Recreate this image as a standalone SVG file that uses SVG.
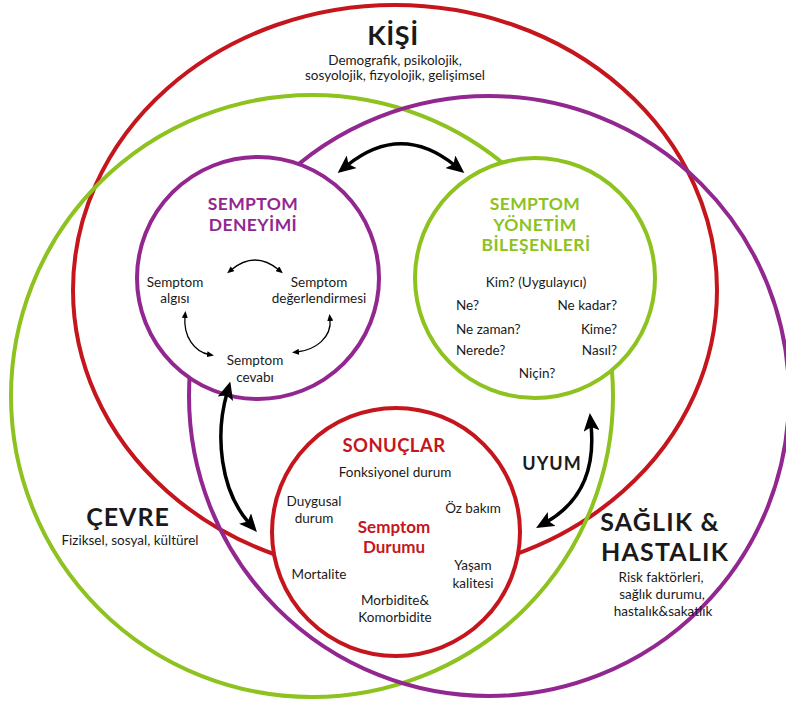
<svg xmlns="http://www.w3.org/2000/svg" width="786" height="703" viewBox="0 0 786 703">
<defs>
<style>
.big{fill:none;stroke-width:4}
.node{fill:#fff;stroke-width:4}
.r{stroke:#C4161C}.p{stroke:#92278F}.g{stroke:#8DC21F}
text{font-family:Lato,"Open Sans","Liberation Sans",sans-serif;text-anchor:middle;fill:#1a1a1a}
.t{font-size:13.5px}
.h{font-weight:bold}
.tr{fill:#C4161C}.tp{fill:#92278F}.tg{fill:#8DC21F}
.L{text-anchor:start}.R{text-anchor:end}
.ba{fill:none;stroke:#000;stroke-width:3.5}
.sa{fill:none;stroke:#000;stroke-width:1.3}
</style>
<marker id="bigHead" markerUnits="userSpaceOnUse" viewBox="0 0 18 16" markerWidth="18" markerHeight="16" refX="6" refY="8" orient="auto-start-reverse">
<path d="M0,0 L18,8 L0,16 L4,8 z" fill="#000"/>
</marker>
<marker id="smHead" markerUnits="userSpaceOnUse" viewBox="0 0 7 6" markerWidth="7" markerHeight="6" refX="2" refY="3" orient="auto-start-reverse">
<path d="M0,0 L7,3 L0,6 z" fill="#000"/>
</marker>
</defs>
<rect width="786" height="703" fill="#fff"/>

<g id="kisi">
<ellipse class="big r" cx="395" cy="290" rx="322" ry="285"/>
<text class="h" x="393" y="45" font-size="27" letter-spacing="0.5">KİŞİ</text>
<text class="t" x="395" y="65">Demografik, psikolojik,</text>
<text class="t" x="395" y="80">sosyolojik, fizyolojik, gelişimsel</text>
</g>

<g id="cevre">
<circle class="big g" cx="312" cy="396" r="301"/>
<text class="h" x="128" y="526" font-size="25" letter-spacing="1">ÇEVRE</text>
<text class="t" x="130" y="545">Fiziksel, sosyal, kültürel</text>
</g>

<g id="saglik">
<circle class="big p" cx="489" cy="396" r="300"/>
<text class="h" x="660" y="531" font-size="25" letter-spacing="1.2">SAĞLIK &amp;</text>
<text class="h" x="665" y="561" font-size="25" letter-spacing="1.2">HASTALIK</text>
<text class="t" x="661" y="582">Risk faktörleri,</text>
<text class="t" x="662" y="599">sağlık durumu,</text>
<text class="t" x="663" y="616">hastalık&amp;sakatlık</text>
</g>

<g id="deneyim">
<circle class="node p" cx="258" cy="278" r="121"/>
<text class="h tp" x="253" y="210" font-size="17.5" letter-spacing="0.4">SEMPTOM</text>
<text class="h tp" x="253" y="231" font-size="17.5" letter-spacing="0.4">DENEYİMİ</text>
<text class="t" x="175" y="287">Semptom</text>
<text class="t" x="175" y="303">algısı</text>
<text class="t" x="319" y="287">Semptom</text>
<text class="t" x="319" y="303">değerlendirmesi</text>
<text class="t" x="255" y="365">Semptom</text>
<text class="t" x="255" y="382">cevabı</text>
</g>

<g id="yonetim">
<circle class="node g" cx="535" cy="278" r="120"/>
<text class="h tg" x="535" y="210" font-size="17.5" letter-spacing="0.4">SEMPTOM</text>
<text class="h tg" x="535" y="231" font-size="17.5" letter-spacing="0.4">YÖNETİM</text>
<text class="h tg" x="536" y="251" font-size="17.5" letter-spacing="0.4">BİLEŞENLERİ</text>
<text class="t" x="536" y="287">Kim? (Uygulayıcı)</text>
<text class="t L" x="456" y="310">Ne?</text>
<text class="t R" x="617" y="310">Ne kadar?</text>
<text class="t L" x="456" y="334">Ne zaman?</text>
<text class="t R" x="617" y="334">Kime?</text>
<text class="t L" x="456" y="355">Nerede?</text>
<text class="t R" x="617" y="355">Nasıl?</text>
<text class="t" x="537" y="378">Niçin?</text>
</g>

<g id="sonuclar">
<circle class="node r" cx="396" cy="532" r="124"/>
<text class="h tr" x="394" y="452" font-size="18.5" letter-spacing="0.4">SONUÇLAR</text>
<text class="t" x="395" y="477">Fonksiyonel durum</text>
<text class="t" x="314" y="506">Duygusal</text>
<text class="t" x="314" y="523">durum</text>
<text class="t" x="473" y="513">Öz bakım</text>
<text class="h tr" x="394" y="533" font-size="17">Semptom</text>
<text class="h tr" x="394" y="553" font-size="17">Durumu</text>
<text class="t" x="319" y="579">Mortalite</text>
<text class="t" x="473" y="570">Yaşam</text>
<text class="t" x="473" y="588">kalitesi</text>
<text class="t" x="395" y="605">Morbidite&amp;</text>
<text class="t" x="395" y="622">Komorbidite</text>
</g>

<g id="uyum-label">
<text class="h" x="552" y="470" font-size="18" letter-spacing="1">UYUM</text>
</g>

<g id="connectors">
<path class="ba" d="M347,165.5 Q401,122 455,165.5" marker-start="url(#bigHead)" marker-end="url(#bigHead)"/>
<path class="ba" d="M227,393 C215,435 220,490 249,523" marker-start="url(#bigHead)" marker-end="url(#bigHead)"/>
<path class="ba" d="M591,425 C595,465 585,500 546.5,522" marker-start="url(#bigHead)" marker-end="url(#bigHead)"/>
<path class="sa" d="M231,270 Q255,250 279,270" marker-start="url(#smHead)" marker-end="url(#smHead)"/>
<path class="sa" d="M185,316 C183,337 195,352 209,354.5" marker-start="url(#smHead)" marker-end="url(#smHead)"/>
<path class="sa" d="M330,319 C332,338 315,350 297,352" marker-start="url(#smHead)" marker-end="url(#smHead)"/>
</g>
</svg>
